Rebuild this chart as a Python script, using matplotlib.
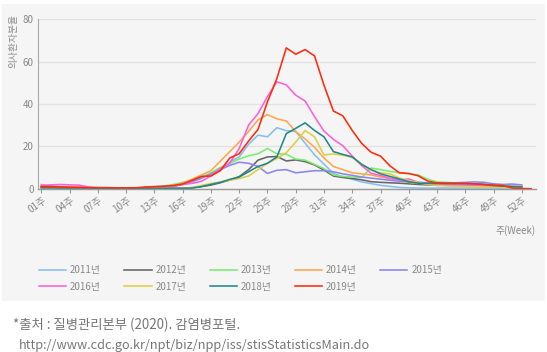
import matplotlib
matplotlib.use("Agg")
import matplotlib.pyplot as plt
import matplotlib.transforms as mtransforms
from matplotlib.patches import Rectangle

plt.rcParams['font.family'] = ['Noto Sans CJK KR', 'DejaVu Sans']

years = ['2011년', '2012년', '2013년', '2014년', '2015년',
         '2016년', '2017년', '2018년', '2019년']
colors = ['#85bff0', '#666666', '#7aec6e', '#ffa64d', '#8b85ee',
          '#ff5fd9', '#dccf46', '#23878a', '#ff2a0a']

# 주별 의사환자분율 (1~52주, 2019년은 53주까지)
rate_2011 = [1.0, 0.8, 0.7, 0.5, 0.3, 0.2, 0.2, 0.2, 0.2, 0.1,
             0.1, 0.3, 0.5, 0.8, 1.2, 2.0, 3.0, 5.0, 7.0, 9.5,
             12.5, 15.0, 21.0, 25.3, 24.5, 28.8, 27.4, 27.0, 21.5, 16.0,
             11.6, 7.2, 5.5, 4.5, 3.2, 2.4, 1.6, 1.1, 0.6, 0.4,
             0.3, 0.3, 0.3, 0.3, 0.3, 0.3, 0.3, 0.3, 0.3, 0.3,
             0.3, 0.3]
rate_2012 = [0.8, 0.8, 0.7, 0.6, 0.5, 0.4, 0.4, 0.3, 0.3, 0.3,
             0.2, 0.2, 0.2, 0.2, 0.2, 0.2, 0.5, 1.0, 1.7, 2.8,
             4.1, 5.7, 9.0, 13.5, 15.0, 15.2, 13.1, 13.6, 12.8, 11.2,
             8.8, 6.0, 5.3, 4.8, 4.2, 3.3, 3.0, 2.8, 2.6, 2.3,
             2.0, 1.8, 1.7, 1.6, 1.6, 1.5, 1.5, 1.4, 1.3, 1.2,
             1.1, 1.0]
rate_2013 = [0.5, 0.5, 0.4, 0.4, 0.3, 0.3, 0.3, 0.3, 0.3, 0.3,
             0.3, 0.5, 0.8, 1.2, 2.0, 3.0, 4.0, 5.5, 7.5, 10.0,
             12.0, 14.0, 15.5, 16.5, 19.0, 16.5, 16.3, 14.0, 13.5, 11.5,
             9.5, 6.5, 5.8, 5.5, 5.3, 9.8, 9.0, 8.2, 7.6, 7.0,
             6.5, 4.5, 3.2, 3.0, 2.7, 2.5, 2.2, 2.0, 1.5, 1.2,
             1.0, 0.8]
rate_2014 = [2.0, 1.2, 1.0, 0.8, 0.7, 0.5, 0.4, 0.3, 0.3, 0.3,
             0.3, 0.5, 0.8, 1.0, 1.5, 2.5, 4.5, 6.5, 8.5, 13.0,
             17.5, 22.0, 27.0, 32.5, 35.0, 33.0, 32.0, 27.0, 23.5, 19.5,
             14.5, 10.5, 9.0, 7.5, 7.0, 6.5, 5.5, 4.7, 4.0, 3.0,
             2.6, 2.3, 2.2, 2.0, 1.8, 1.6, 1.5, 1.3, 1.2, 1.0,
             0.8, 0.6]
rate_2015 = [0.6, 0.6, 0.5, 0.5, 0.4, 0.4, 0.3, 0.3, 0.3, 0.3,
             0.3, 0.4, 0.5, 0.7, 1.0, 2.0, 3.5, 5.0, 7.0, 9.0,
             11.0, 12.5, 12.0, 10.5, 7.2, 8.7, 9.0, 7.5, 8.0, 8.5,
             8.5, 8.0, 7.0, 6.3, 5.5, 5.0, 4.5, 4.0, 3.5, 3.3,
             3.0, 2.8, 2.7, 2.7, 2.8, 3.0, 3.2, 3.0, 2.3, 2.0,
             2.2, 1.8]
rate_2016 = [1.5, 1.8, 2.0, 1.8, 1.7, 0.8, 0.5, 0.4, 0.3, 0.3,
             0.3, 0.4, 0.6, 0.9, 1.2, 2.0, 2.5, 3.5, 6.0, 9.5,
             12.0, 19.0, 30.0, 35.5, 43.5, 50.5, 49.0, 44.2, 41.4, 34.0,
             27.2, 23.3, 20.3, 15.4, 10.9, 7.3, 6.2, 4.9, 4.2, 4.6,
             3.0, 2.5, 2.2, 2.0, 1.8, 1.7, 1.5, 1.4, 1.2, 1.0,
             0.8, 0.6]
rate_2017 = [0.5, 0.5, 0.4, 0.4, 0.3, 0.3, 0.3, 0.3, 0.3, 0.2,
             0.2, 0.2, 0.2, 0.2, 0.2, 0.3, 0.5, 1.5, 2.5, 3.2,
             4.0, 4.8, 6.0, 9.0, 12.0, 14.3, 17.0, 22.0, 27.5, 24.5,
             15.9, 16.4, 15.8, 14.8, 11.5, 9.0, 7.5, 7.0, 5.0, 3.8,
             3.0, 2.0, 1.5, 1.3, 1.2, 1.0, 0.9, 0.8, 0.7, 0.6,
             0.5, 0.5]
rate_2018 = [0.4, 0.4, 0.3, 0.3, 0.3, 0.3, 0.2, 0.2, 0.2, 0.2,
             0.2, 0.2, 0.2, 0.2, 0.2, 0.2, 0.3, 1.0, 2.0, 3.0,
             4.4, 5.5, 8.0, 10.5, 12.0, 15.0, 26.0, 28.5, 31.1, 27.5,
             24.5, 17.5, 16.2, 15.0, 11.5, 9.0, 7.0, 5.8, 4.6, 3.3,
             2.6, 2.5, 2.5, 2.5, 2.5, 2.4, 2.3, 2.0, 1.5, 1.2,
             1.0, 0.8]
rate_2019 = [1.0, 1.0, 0.9, 0.7, 0.6, 0.5, 0.5, 0.5, 0.4, 0.4,
             0.4, 0.8, 1.0, 1.2, 1.5, 2.2, 4.0, 5.8, 6.0, 8.5,
             14.5, 16.5, 22.5, 28.0, 41.0, 52.0, 66.5, 63.5, 65.7, 62.7,
             48.9, 36.7, 34.4, 27.5, 21.4, 17.2, 15.4, 10.8, 7.5, 7.2,
             6.1, 3.6, 2.7, 2.5, 2.5, 2.5, 2.3, 2.0, 1.7, 1.5,
             0.3, 0.1, 0.0]

series = [rate_2011, rate_2012, rate_2013, rate_2014, rate_2015,
          rate_2016, rate_2017, rate_2018, rate_2019]

tick_weeks = list(range(1, 53, 3))
tick_labels = [f'{w:02d}주' for w in tick_weeks]
y_ticks = [0, 20, 40, 60, 80]

W, H = 547, 352
fig = plt.figure(figsize=(W / 100, H / 100), dpi=100)
fig.patch.set_facecolor('white')
fig.add_artist(Rectangle((2 / W, 1 - 301 / H), 543 / W, 297 / H,
                         transform=fig.transFigure, facecolor='#f5f5f5',
                         edgecolor='none', zorder=0))

ax = fig.add_axes([37.7 / W, 1 - 188.7 / H, (536 - 37.7) / W, (188.7 - 19.3) / H])
ax.set_facecolor('none')

handles = []
for vals, c, name in zip(series, colors, years):
    weeks = list(range(1, len(vals) + 1))
    h, = ax.plot(weeks, vals, color=c, lw=1.15, label=name)
    handles.append(h)

ax.set_xlim(0.62, 53.5)
ax.set_ylim(0, 80)
ax.set_yticks(y_ticks)
ax.set_xticks(tick_weeks)
ax.set_xticklabels(tick_labels, rotation=35, ha='center')
ax.tick_params(axis='y', length=0, pad=3, labelsize=7, labelcolor='#888888')
ax.tick_params(axis='x', length=3, width=0.8, color='#999999', pad=2,
               labelsize=7, labelcolor='#888888')
shift = mtransforms.ScaledTranslation(-3 / 72, 0, fig.dpi_scale_trans)
for lab in ax.get_xticklabels():
    lab.set_transform(lab.get_transform() + shift)

ax.grid(axis='y', color='#e2e2e2', lw=1)
ax.set_axisbelow(True)
for side in ['top', 'right']:
    ax.spines[side].set_visible(False)
ax.spines['left'].set_color('#aaaaaa')
ax.spines['bottom'].set_color('#999999')
ax.spines['left'].set_linewidth(0.8)
ax.spines['bottom'].set_linewidth(1.0)

ax.set_ylabel('의사환자분율', fontsize=7, color='#888888')
ax.yaxis.set_label_coords(-(37.7 - 13) / (536 - 37.7), 1.03)
ax.yaxis.label.set_va('center')
ax.yaxis.label.set_ha('right')
ax.set_xlabel('주(Week)', fontsize=7, color='#888888', loc='right')
ax.xaxis.set_label_coords(1.0, -(225 - 188.7) / (188.7 - 19.3))

# 범례: 5열, 행 우선 순서로 배치
order = [0, 5, 1, 6, 2, 7, 3, 8, 4]
fig.legend([handles[i] for i in order], [years[i] for i in order],
           ncol=5, loc='upper left', bbox_to_anchor=(39 / W, 1 - 265 / H),
           frameon=False, fontsize=7, labelcolor='#888888',
           handlelength=2.8, handletextpad=0.4, columnspacing=2.4,
           labelspacing=0.68, borderpad=0, borderaxespad=0)

fig.text(13 / W, 1 - 325 / H, '*출처 : 질병관리본부 (2020). 감염병포털.',
         fontsize=9.6, color='#777777', va='center', ha='left')
fig.text(19 / W, 1 - 345 / H,
         'http://www.cdc.go.kr/npt/biz/npp/iss/stisStatisticsMain.do',
         fontsize=9.2, color='#777777', va='center', ha='left')

fig.savefig('out.png', dpi=100, facecolor=fig.get_facecolor())
